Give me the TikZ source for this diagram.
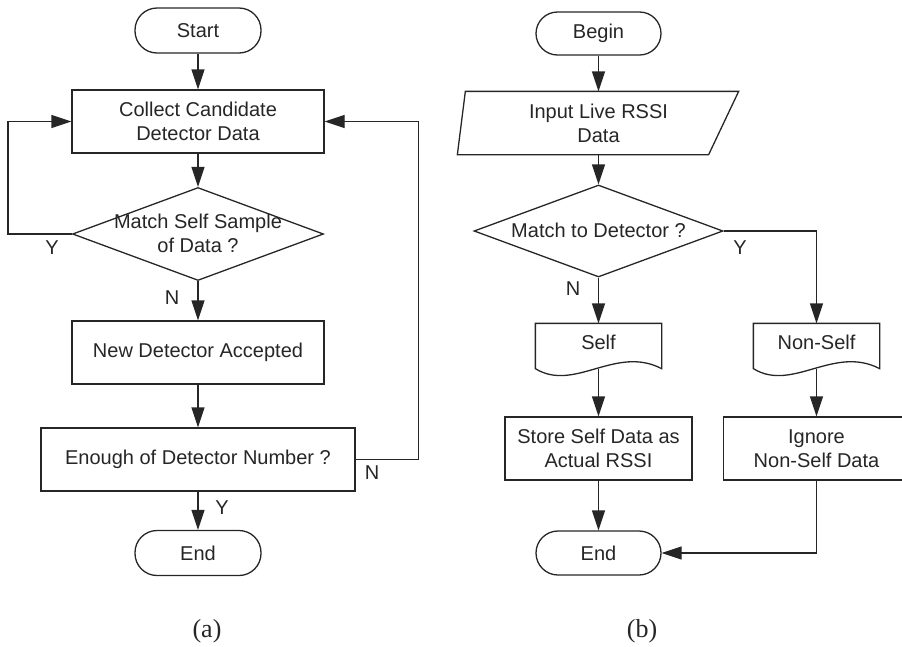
\documentclass[tikz,border=0pt]{standalone}
\usepackage{fontspec}
\setmainfont{Liberation Sans}
\newfontfamily\capfont{Liberation Serif}
\usetikzlibrary{arrows.meta,shapes.geometric,calc}

\begin{document}
\begin{tikzpicture}[x=1pt,y=-1pt,
  color=black!85, line width=1.3pt,
  every node/.style={font=\fontsize{20}{24}\selectfont},
  box/.style={draw, rectangle, minimum height=63pt, inner sep=0pt, align=center},
  term/.style={draw, rectangle, rounded corners=22pt, minimum width=126pt, minimum height=45pt, inner sep=0pt},
  dia/.style={draw, diamond, inner sep=0pt, minimum width=251pt, minimum height=93pt},
  doc/.style={rectangle, minimum width=125pt, minimum height=44pt, inner sep=0pt, text depth=8pt},
  lbl/.style={inner sep=0pt, align=center},
  arr/.style={-{Triangle[length=20pt,width=13pt]}},
  yn/.style={inner sep=0pt},
  captxt/.style={inner sep=0pt, font=\capfont\fontsize{26}{30}\selectfont}
]
\useasboundingbox (0,0) rectangle (902,646);

% ---------- (a) ----------
\node[term] (start) at (198,30.5) {Start};
\node[box, minimum width=252pt] (collect) at (198,121.5) {Collect Candidate\\Detector Data};
\node[dia] (match) at (198,234) {};
\node[lbl] (matcht) at (198,233) {Match Self Sample\\of Data ?};
\node[box, minimum width=252pt] (newd) at (198,352.5) {New Detector Accepted};
\node[box, minimum width=314pt] (enough) at (198,459.5) {Enough of Detector Number ?};
\node[term] (enda) at (198,553) {End};

\draw[arr] (start) -- (collect);
\draw[arr] (collect) -- (match);
\draw[arr] (match) -- (newd);
\draw[arr] (newd) -- (enough);
\draw[arr] (enough) -- (enda);
\draw[arr] (match.west) -- ++(-64,0) |- (collect.west);
\draw[arr] (enough.east) -- ++(63,0) |- (collect.east);

\node[yn] (ya) at (52,248) {Y};
\node[yn] (na) at (172,298) {N};
\node[yn] (na2) at (372,473) {N};
\node[yn] (ya2) at (222,508) {Y};

\node[captxt] (capa) at (207,631) {(a)};

% ---------- (b) ----------
\node[term, minimum width=125pt, minimum height=43pt, rounded corners=21.5pt] (begin) at (598.5,33.5) {Begin};
\node[lbl, minimum width=248pt, minimum height=62pt] (input) at (598.5,123) {Input Live RSSI\\Data};
\draw ($(input.north west)+(-8.5,0)$) -- ($(input.north east)+(15.5,0)$)
      -- ($(input.south east)+(-14.5,0)$) -- ($(input.south west)+(-16.5,0)$) -- cycle;
\node[dia, minimum width=249pt, minimum height=92pt] (mtd) at (598.5,231) {};
\node[lbl] (mtdt) at (598.5,230) {Match to Detector ?};

\node[doc] (self) at (598.5,346) {Self};
\node[doc] (nonself) at (816.5,346) {Non-Self};
\foreach \d in {self,nonself}{
  \draw (\d.south west) .. controls ($(\d.south west)+(39,24)$) and ($(\d.south east)+(-46,-24)$) .. (\d.south east)
        -- (\d.north east) -- (\d.north west) -- cycle;
}

\node[box, minimum width=187pt] (store) at (598.5,448.5) {Store Self Data as\\Actual RSSI};
\node[box, minimum width=186pt] (ignore) at (816.5,448.5) {Ignore\\Non-Self Data};
\node[term, minimum width=125pt, minimum height=44pt] (endb) at (598.5,553) {End};

\draw[arr] (begin) -- (input.north);
\draw[arr] (input.south) -- (mtd.north);
\draw[arr] (mtd.south) -- (self.north);
\draw[arr] (mtd.east) -| (nonself.north);
\draw[arr] (self.south) -- (store.north);
\draw[arr] (nonself.south) -- (ignore.north);
\draw[arr] (store) -- (endb);
\draw[arr] (ignore.south) |- (endb.east);

\node[yn] (yb) at (740,248) {Y};
\node[yn] (nb) at (573,289) {N};

\node[captxt] (capb) at (642,631) {(b)};
\end{tikzpicture}
\end{document}
